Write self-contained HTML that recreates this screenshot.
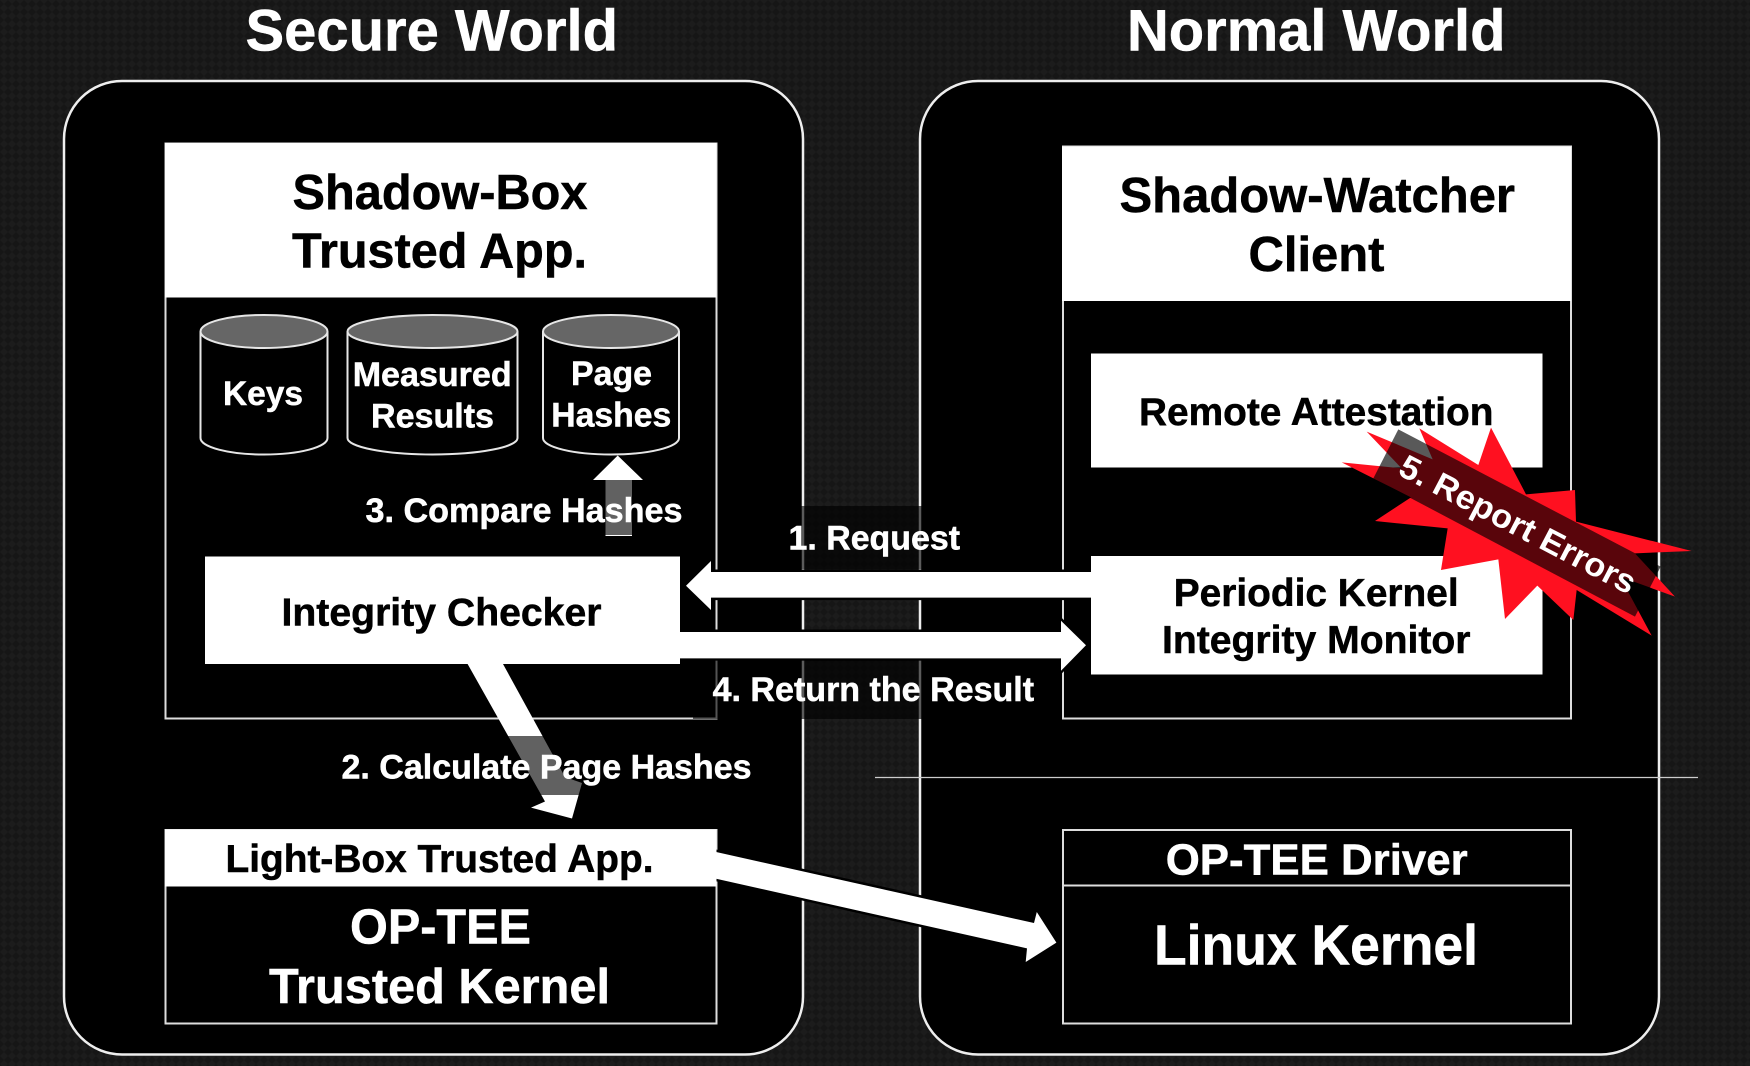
<!DOCTYPE html>
<html><head><meta charset="utf-8"><style>
html,body{margin:0;padding:0;background:#1a1a1a;width:1750px;height:1066px;overflow:hidden}
svg{display:block}
text{font-family:"Liberation Sans",Arial,sans-serif;font-weight:bold}
.w{fill:#fff;stroke:#fff;stroke-width:.5}.k{fill:#000;stroke:#000;stroke-width:.5}
</style></head><body>
<svg width="1750" height="1066" viewBox="0 0 1750 1066" xmlns="http://www.w3.org/2000/svg">
<defs>
<pattern id="bg" width="8" height="8" patternUnits="userSpaceOnUse">
<rect width="8" height="8" fill="#1c1c1c"/>
<path d="M0 0L4 4L0 8Z M8 0L4 4L8 8Z" fill="#161616"/>
</pattern>
</defs>
<rect width="1750" height="1066" fill="url(#bg)"/>

<rect x="64" y="81" width="739" height="973.5" rx="58" ry="58" fill="#000" stroke="#eee" stroke-width="2.5"/>
<rect x="920" y="81" width="739" height="973.5" rx="58" ry="58" fill="#000" stroke="#eee" stroke-width="2.5"/>

<!-- left frames -->
<rect x="165.500" y="143.500" width="551" height="575" fill="#000" stroke="#ddd" stroke-width="2"/>
<rect x="165" y="143" width="551.500" height="154.500" fill="#fff"/>
<rect x="165.500" y="830" width="551" height="193.500" fill="#000" stroke="#ddd" stroke-width="2"/>

<!-- right frames -->
<rect x="1063" y="146.500" width="508" height="572" fill="#000" stroke="#ddd" stroke-width="2"/>
<rect x="1062" y="146.500" width="509" height="154.500" fill="#fff"/>
<rect x="1063" y="830" width="508" height="193.500" fill="#000" stroke="#ddd" stroke-width="2"/>
<line x1="1063" y1="885.500" x2="1571" y2="885.500" stroke="#ddd" stroke-width="2"/>
<rect x="1091" y="353.500" width="451.500" height="114" fill="#fff"/>

<!-- cylinders -->
<g stroke="#e6e6e6" stroke-width="2" fill="#000">
<path d="M200.500 331.500V438A63.500 16.500 0 0 0 327.500 438V331.500"/>
<ellipse cx="264" cy="331.500" rx="63.500" ry="16.500" fill="#666"/>
<path d="M347.500 331.500V438A85 16.500 0 0 0 517.500 438V331.500"/>
<ellipse cx="432.500" cy="331.500" rx="85" ry="16.500" fill="#666"/>
<path d="M543 331.500V438A68 16.500 0 0 0 679 438V331.500"/>
<ellipse cx="611" cy="331.500" rx="68" ry="16.500" fill="#666"/>
</g>

<!-- separator -->
<line x1="875" y1="777.500" x2="1698" y2="777.500" stroke="#ccc" stroke-width="1.200"/>

<!-- arrows -->
<polygon points="617.700,455.500 643,480 632,480 632,536 605.500,536 605.500,480 593,480" fill="#fff"/>
<g fill="#fff" stroke="#000" stroke-width="5" stroke-linejoin="miter" style="paint-order:stroke">
<polygon points="1100,572 711,572 711,561 686,585.700 711,610 711,597.600 1100,597.600"/>
<polygon points="670,632 1061,632 1061,620.700 1086,645.300 1061,670.700 1061,658.400 670,658.400"/>
<polygon points="700,848.400 1034,923 1036.800,912 1056.400,942.600 1025.700,962 1027,948.400 700,875.100"/>
</g>

<!-- boxes painted over the arrow tails -->
<rect x="1091" y="556" width="451.500" height="118.500" fill="#fff"/>
<rect x="205" y="556.500" width="475" height="107.500" fill="#fff"/>
<rect x="165" y="829.500" width="551.500" height="57" fill="#fff"/>
<polygon points="467.600,664 503,664 565,777 582,783 572,818.500 531,807.600 545,801.500" fill="#fff"/>

<!-- translucent label plates -->
<g fill="#000" fill-opacity="0.62">
<rect x="360" y="480" width="330" height="55"/>
<rect x="730" y="506" width="290" height="63"/>
<rect x="693" y="661" width="360" height="58"/>
<rect x="335" y="736" width="425" height="59"/>
</g>

<!-- labels -->
<g class="w">
<text x="245.500" y="50.300" font-size="58" textLength="372.500" lengthAdjust="spacingAndGlyphs">Secure World</text>
<text x="1127" y="50.500" font-size="58" textLength="378.500" lengthAdjust="spacingAndGlyphs">Normal World</text>
<text x="223" y="405" font-size="34" textLength="80" lengthAdjust="spacingAndGlyphs">Keys</text>
<text x="352.700" y="385.800" font-size="34" textLength="159" lengthAdjust="spacingAndGlyphs">Measured</text>
<text x="371" y="427.300" font-size="34" textLength="123" lengthAdjust="spacingAndGlyphs">Results</text>
<text x="571" y="385" font-size="34" textLength="81" lengthAdjust="spacingAndGlyphs">Page</text>
<text x="551.300" y="426.600" font-size="34" textLength="120" lengthAdjust="spacingAndGlyphs">Hashes</text>
<text x="365.500" y="521.800" font-size="34" textLength="317" lengthAdjust="spacingAndGlyphs">3. Compare Hashes</text>
<text x="788.500" y="549.500" font-size="34" textLength="171.500" lengthAdjust="spacingAndGlyphs">1. Request</text>
<text x="712.600" y="701" font-size="34" textLength="321.500" lengthAdjust="spacingAndGlyphs">4. Return the Result</text>
<text x="341.500" y="778.400" font-size="34" textLength="410" lengthAdjust="spacingAndGlyphs">2. Calculate Page Hashes</text>
<text x="350" y="943.600" font-size="49" textLength="181" lengthAdjust="spacingAndGlyphs">OP-TEE</text>
<text x="269" y="1002.800" font-size="49" textLength="341" lengthAdjust="spacingAndGlyphs">Trusted Kernel</text>
<text x="1165.700" y="874.600" font-size="44" textLength="302" lengthAdjust="spacingAndGlyphs">OP-TEE Driver</text>
<text x="1154" y="964.700" font-size="57" textLength="324" lengthAdjust="spacingAndGlyphs">Linux Kernel</text>
</g>
<g class="k">
<text x="292.500" y="209" font-size="49" textLength="295" lengthAdjust="spacingAndGlyphs">Shadow-Box</text>
<text x="292" y="267.500" font-size="49" textLength="295" lengthAdjust="spacingAndGlyphs">Trusted App.</text>
<text x="281.500" y="625.500" font-size="39" textLength="320" lengthAdjust="spacingAndGlyphs">Integrity Checker</text>
<text x="225.500" y="872" font-size="39" textLength="428" lengthAdjust="spacingAndGlyphs">Light-Box Trusted App.</text>
<text x="1119.500" y="211.800" font-size="49" textLength="395.500" lengthAdjust="spacingAndGlyphs">Shadow-Watcher</text>
<text x="1248.500" y="271" font-size="49" textLength="136" lengthAdjust="spacingAndGlyphs">Client</text>
<text x="1139" y="424.900" font-size="39" textLength="354.500" lengthAdjust="spacingAndGlyphs">Remote Attestation</text>
<text x="1173.700" y="606" font-size="39" textLength="285" lengthAdjust="spacingAndGlyphs">Periodic Kernel</text>
<text x="1162" y="653" font-size="39" textLength="308.500" lengthAdjust="spacingAndGlyphs">Integrity Monitor</text>
</g>

<!-- star + banner -->
<g transform="translate(1300,400) scale(0.33333)">
<polygon fill="#ff1020" points="125,187 305,205 200,95 398,178 358,85 535,195 573,83 678,283 825,270 828,365 1175,453 1005,460 1125,590 960,530 1055,707 830,570 820,660 712,557 615,657 595,478 423,510 443,385 225,363 333,292"/>
<polygon fill="#000" fill-opacity="0.65" points="295,88 1082,500 1005,650 220,235"/>
<text transform="translate(290,222) rotate(27.500)" font-size="100" fill="#fff" textLength="785" lengthAdjust="spacingAndGlyphs">5. Report Errors</text>
</g>
</svg>
</body></html>
